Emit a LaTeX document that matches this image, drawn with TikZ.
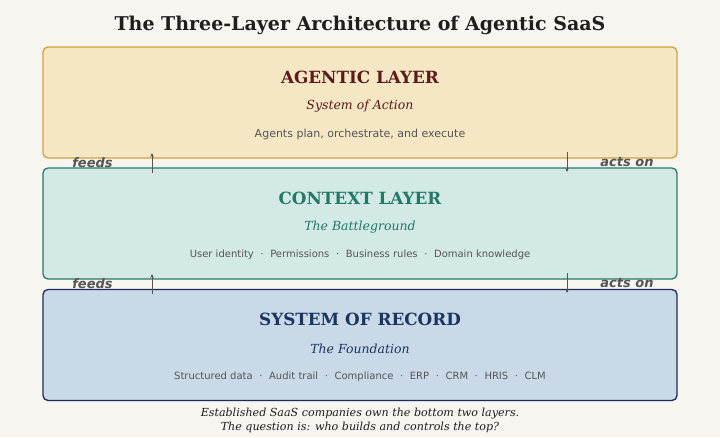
\documentclass[tikz,border=0pt]{standalone}
\usepackage{fontspec}
\setmainfont{DejaVu Serif}
\setsansfont{DejaVu Sans}
\usetikzlibrary{arrows.meta}
\definecolor{bgc}{HTML}{F7F5F0}
\definecolor{agfill}{HTML}{F5E6C4}
\definecolor{agdraw}{HTML}{D4A23C}
\definecolor{agtext}{HTML}{5C1A1A}
\definecolor{ctfill}{HTML}{D3E9E5}
\definecolor{ctdraw}{HTML}{2A7A66}
\definecolor{cttext}{HTML}{1F7A66}
\definecolor{rcfill}{HTML}{C9D9E8}
\definecolor{rcdraw}{HTML}{1C2B5A}
\definecolor{rctext}{HTML}{1A3560}
\definecolor{graytext}{HTML}{555555}
\definecolor{titletext}{HTML}{1E1E1E}
\newcommand{\sepdot}{\hspace{6.6pt}·\hspace{6.6pt}}
\tikzset{
  layerbox/.style={draw, line width=1.3pt, rounded corners=5pt, minimum width=634pt, minimum height=111pt, inner sep=0pt},
  layertitle/.style={font=\fontsize{16.8}{20}\selectfont\bfseries, inner sep=0pt},
  layersub/.style={font=\fontsize{12.5}{15}\selectfont\itshape, inner sep=0pt},
  layerdesc/.style={font=\sffamily\fontsize{10}{12}\selectfont, text=graytext, inner sep=0pt},
  flowlabel/.style={font=\sffamily\fontsize{13}{15}\selectfont\bfseries\itshape, text=graytext, inner sep=0pt},
  flowarrow/.style={draw=graytext, line width=0.8pt, -{Stealth[length=4pt,width=3.5pt]}},
  foot/.style={font=\fontsize{11.1}{13}\selectfont\itshape, text=titletext, inner sep=0pt}
}
\begin{document}
\begin{tikzpicture}[x=1pt,y=-1pt]
\fill[bgc] (0,0) rectangle (720,437);
\useasboundingbox (0,0) rectangle (720,437);
\node[font=\fontsize{19}{22}\selectfont\bfseries, text=titletext, inner sep=0pt] (title) at (360,25) {The Three-Layer Architecture of Agentic SaaS};
% boxes
\node[layerbox, fill=agfill, draw=agdraw] (ag) at (360,102.5) {};
\node[layerbox, fill=ctfill, draw=ctdraw] (ct) at (360,223.5) {};
\node[layerbox, fill=rcfill, draw=rcdraw] (rc) at (360,345) {};
% texts
\node[layertitle, text=agtext] (agt) at (360,77) {AGENTIC LAYER};
\node[layersub, text=agtext] (ags) at (360,106.5) {System of Action};
\node[layerdesc, font=\sffamily\fontsize{11}{13}\selectfont] (agd) at (360,134) {Agents plan, orchestrate, and execute};
\node[layertitle, text=cttext] (ctt) at (360,198) {CONTEXT LAYER};
\node[layersub, text=cttext] (cts) at (360,227.5) {The Battleground};
\node[layerdesc] (ctd) at (360,255) {User identity\sepdot Permissions\sepdot Business rules\sepdot Domain knowledge};
\node[layertitle, text=rctext] (rct) at (360,319) {SYSTEM OF RECORD};
\node[layersub, text=rctext] (rcs) at (360,348.5) {The Foundation};
\node[layerdesc] (rcd) at (360,377) {Structured data\sepdot Audit trail\sepdot Compliance\sepdot ERP\sepdot CRM\sepdot HRIS\sepdot CLM};
% flow coordinates
\coordinate (f1a) at (152,173);
\coordinate (f1b) at (152,153);
\coordinate (a1a) at (567,152);
\coordinate (a1b) at (567,172);
\coordinate (f2a) at (152,294);
\coordinate (f2b) at (152,274);
\coordinate (a2a) at (567,273);
\coordinate (a2b) at (567,293);
\draw[flowarrow] (f1a) -- (f1b);
\draw[flowarrow] (a1a) -- (a1b);
\draw[flowarrow] (f2a) -- (f2b);
\draw[flowarrow] (a2a) -- (a2b);
\node[flowlabel] (fl1) at (92.5,162.5) {feeds};
\node[flowlabel] (al1) at (627,162.5) {acts on};
\node[flowlabel] (fl2) at (92.5,283.5) {feeds};
\node[flowlabel] (al2) at (627,283.5) {acts on};
% footer
\node[foot] (ft1) at (360,414) {Established SaaS companies own the bottom two layers.};
\node[foot] (ft2) at (360,427.5) {The question is: who builds and controls the top?};
\end{tikzpicture}
\end{document}
